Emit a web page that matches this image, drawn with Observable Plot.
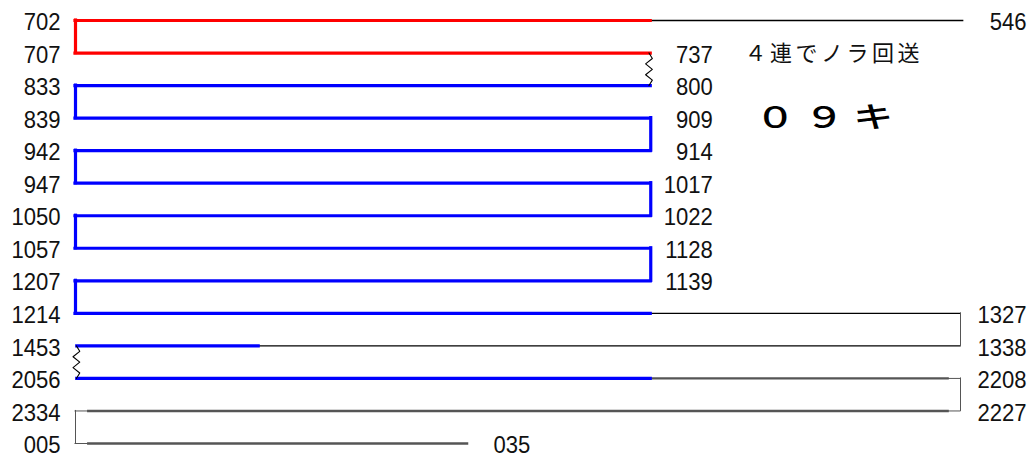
<!DOCTYPE html>
<html>
<head>
<meta charset="utf-8">
<script src="https://cdn.jsdelivr.net/npm/d3@7"></script>
<script src="https://cdn.jsdelivr.net/npm/@observablehq/plot@0.6"></script>
<style>
  html, body { margin: 0; padding: 0; background: #fff; }
  #chart svg { display: block; }
</style>
</head>
<body>
<div id="chart"></div>
<script>
// ---- data ----
const rowIndex = [0,1,2,3,4,5,6,7,8,9,10,11,12,13];
const leftTimes  = ["702","707","833","839","942","947","1050","1057","1207","1214","1453","2056","2334","005"];
const rightTimes = ["546","737","800","909","914","1017","1022","1128","1139","1327","1338","2208","2227","035"];
const rightPlace = ["far","turn","turn","turn","turn","turn","turn","turn","turn","far","far","far","far","tail"];

// schematic positions along a run (0 = start side, 65 = turn-back, 100 = far end)
const segments = [
  {row:0,  from:0,   to:65,   kind:"red"},
  {row:0,  from:65,  to:100.3,kind:"black"},
  {row:1,  from:0,   to:65,   kind:"red"},
  {row:2,  from:0,   to:65,   kind:"blue"},
  {row:3,  from:0,   to:65,   kind:"blue"},
  {row:4,  from:0,   to:65,   kind:"blue"},
  {row:5,  from:0,   to:65,   kind:"blue"},
  {row:6,  from:0,   to:65,   kind:"blue"},
  {row:7,  from:0,   to:65,   kind:"blue"},
  {row:8,  from:0,   to:65,   kind:"blue"},
  {row:9,  from:0,   to:65,   kind:"blue"},
  {row:9,  from:65,  to:100,  kind:"black"},
  {row:10, from:0.2, to:20.7, kind:"blue"},
  {row:10, from:20.7,to:100,  kind:"black"},
  {row:11, from:0.2, to:65,   kind:"blue"},
  {row:11, from:65,  to:98.6, kind:"gray"},
  {row:11, from:98.6,to:100,  kind:"thin"},
  {row:12, from:1.5, to:98.6, kind:"gray"},
  {row:12, from:98.6,to:100,  kind:"thin"},
  {row:12, from:0,   to:1.5,  kind:"thin"},
  {row:13, from:1.5, to:44.3, kind:"gray"},
  {row:13, from:0,   to:1.5,  kind:"thin"}
];
const links = [
  {x:0,   from:0,  to:1,  kind:"red"},
  {x:0,   from:2,  to:3,  kind:"blue"},
  {x:65,  from:3,  to:4,  kind:"blue"},
  {x:0,   from:4,  to:5,  kind:"blue"},
  {x:65,  from:5,  to:6,  kind:"blue"},
  {x:0,   from:6,  to:7,  kind:"blue"},
  {x:65,  from:7,  to:8,  kind:"blue"},
  {x:0,   from:8,  to:9,  kind:"blue"},
  {x:100, from:9,  to:10, kind:"thin"},
  {x:100, from:11, to:12, kind:"thin"},
  {x:0,   from:12, to:13, kind:"thin"}
];
const breaks = [
  {x:64.8, from:1,  to:2},
  {x:0.1,  from:10, to:11}
];
const notes = [
  {text:"４連でノラ回送", row:1, x:75.6, bold:false},
  {text:"０ ９ キ",      row:3, x:76.8, bold:true}
];

// ---- styles ----
const kindColor = {red:"#ff0000", blue:"#0000ff", black:"#000000", gray:"#555555", thin:"#555555"};
const kindWidth = {red:3.2, blue:3.2, black:1.4, gray:2.4, thin:1};
const placeX  = {far:100, turn:65, tail:44.3};
const placeDx = {far:66, turn:62, tail:26};

// zig-zag path points for a "break" connector
const zigOffsets = [0, 0.38, -0.38, 0.38, -0.38, 0.38, 0];
const zigPoints = breaks.flatMap((b, k) => zigOffsets.map((o, i) => ({
  id: k, x: b.x + o, y: b.from + (b.to - b.from) * i / (zigOffsets.length - 1)
})));

const order = ["thin","black","gray","blue","red"];
const segMarks = order.map(kind => Plot.ruleY(segments.filter(d => d.kind === kind), {
  y: "row", x1: "from", x2: "to",
  stroke: kindColor[kind], strokeWidth: kindWidth[kind], strokeLinecap: "square"
}));
const linkMarks = order.map(kind => Plot.ruleX(links.filter(d => d.kind === kind), {
  x: "x", y1: "from", y2: "to",
  stroke: kindColor[kind], strokeWidth: kindWidth[kind], strokeLinecap: "square"
}));

const labelFont = "'Liberation Sans', Arial, sans-serif";

const chart = Plot.plot({
  width: 1036, height: 462,
  marginLeft: 75, marginRight: 76, marginTop: 20, marginBottom: 19,
  x: {domain: [0, 100], axis: null},
  y: {domain: [0, 13], reverse: true, axis: null},
  style: {background: "#fff", overflow: "visible"},
  marks: [
    ...segMarks,
    ...linkMarks,
    Plot.line(zigPoints, {x: "x", y: "y", z: "id", stroke: "#000", strokeWidth: 1.1, curve: "linear"}),
    Plot.text(rowIndex, {
      x: () => 0, y: d => d, text: d => leftTimes[d],
      textAnchor: "end", dx: -15, dy: 2,
      fontSize: 24, fontFamily: labelFont, fill: "#111"
    }),
    Plot.text(rowIndex.filter(d => rightPlace[d] !== "tail"), {
      x: d => placeX[rightPlace[d]], y: d => d, text: d => rightTimes[d],
      textAnchor: "end", dy: 2,
      fontSize: 24, fontFamily: labelFont, fill: "#111"
    }),
    Plot.text(rowIndex.filter(d => rightPlace[d] === "tail"), {
      x: d => placeX[rightPlace[d]], y: d => d, text: d => rightTimes[d],
      textAnchor: "start", dx: placeDx.tail, dy: 2,
      fontSize: 24, fontFamily: labelFont, fill: "#111"
    }),
    Plot.text(notes.filter(d => !d.bold), {
      x: "x", y: "row", text: "text", textAnchor: "start", dy: 1,
      fontSize: 22, fontFamily: "'Noto Sans CJK JP', sans-serif", fill: "#111"
    }),
    Plot.text(notes.filter(d => d.bold), {
      x: "x", y: "row", text: "text", textAnchor: "start", dy: 1,
      fontSize: 29, fontWeight: 500, fontFamily: "'Noto Sans CJK JP', sans-serif", fill: "#000"
    })
  ]
});
document.getElementById("chart").appendChild(chart);

// narrow the time labels, fit the notes to their width
chart.querySelectorAll("text").forEach(t => {
  const s = t.textContent;
  if (/^\d+$/.test(s)) {
    const len = t.getComputedTextLength();
    t.setAttribute("textLength", (len * 0.92).toFixed(1));
    t.setAttribute("lengthAdjust", "spacingAndGlyphs");
  }
  if (s === notes[0].text) {
    t.setAttribute("textLength", 175);
    t.setAttribute("lengthAdjust", "spacing");
  }
  if (s === notes[1].text) {
    t.setAttribute("textLength", 138);
    t.setAttribute("lengthAdjust", "spacingAndGlyphs");
  }
});
// offsets for right-hand labels at turn-back / far end
const rightSet = new Map(rowIndex.filter(d => rightPlace[d] !== "tail").map(d => [rightTimes[d], rightPlace[d]]));
const textGroups = chart.querySelectorAll("g[aria-label='text']");
textGroups[1].querySelectorAll("text").forEach(t => {
  const place = rightSet.get(t.textContent);
  if (place) t.setAttribute("dx", placeDx[place]);
});
</script>
</body>
</html>
